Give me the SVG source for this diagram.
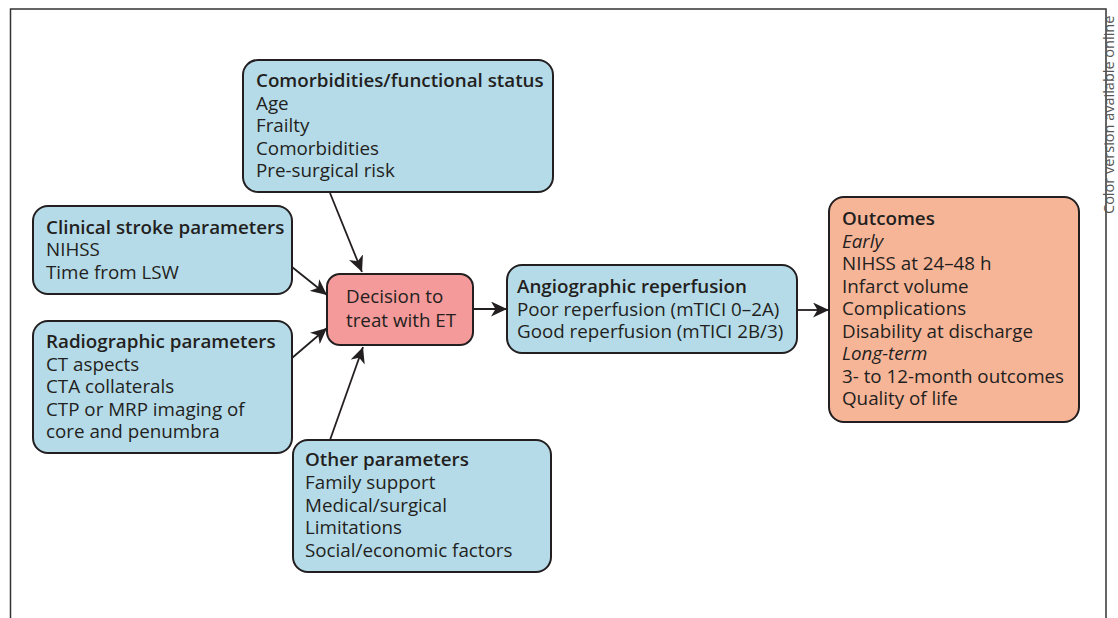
<svg xmlns="http://www.w3.org/2000/svg" width="1118" height="618" viewBox="0 0 1118 618">
<style>
.blue{fill:#b5dbe9;stroke:#231f20;stroke-width:2}
.red{fill:#f49a9a;stroke:#231f20;stroke-width:2}
.peach{fill:#f7b598;stroke:#231f20;stroke-width:2}
text{font-family:"Open Sans","Noto Sans",sans-serif;font-size:18.8px;fill:#231f20}
.t{font-weight:600}
.i{font-style:italic}
.conn line{stroke:#231f20;stroke-width:1.8}
.note{font-size:14.5px;fill:#555}
</style>
<defs>
<marker id="ah" markerUnits="userSpaceOnUse" markerWidth="17" markerHeight="15" refX="16" refY="7.5" orient="auto">
<path d="M0,0 L16,7.5 L0,15 L4.5,7.5 Z" fill="#231f20"/>
</marker>
</defs>
<rect width="1118" height="618" fill="#fff"/>
<path d="M10.5,618 V9 H1106 V618" fill="none" stroke="#333" stroke-width="1.5"/>
<text class="note" transform="translate(1114,214) rotate(-90)">Color version available online</text>

<g class="conn">
<line x1="330" y1="193" x2="362" y2="272" marker-end="url(#ah)"/>
<line x1="292" y1="267" x2="327" y2="295" marker-end="url(#ah)"/>
<line x1="292" y1="358" x2="327" y2="328" marker-end="url(#ah)"/>
<line x1="330" y1="440" x2="363" y2="347" marker-end="url(#ah)"/>
<line x1="473" y1="309" x2="507" y2="309" marker-end="url(#ah)"/>
<line x1="797" y1="310" x2="829" y2="310" marker-end="url(#ah)"/>
</g>

<g id="comorbidities">
<rect class="blue" x="243" y="60" width="310" height="132" rx="15"/>
<text x="256" y="87" class="t">Comorbidities/functional status</text>
<text x="256" y="109.5">Age</text>
<text x="256" y="132">Frailty</text>
<text x="256" y="154.5">Comorbidities</text>
<text x="256" y="177">Pre-surgical risk</text>
</g>

<g id="clinical">
<rect class="blue" x="33" y="206" width="259" height="88" rx="15"/>
<text x="46" y="233.5" class="t">Clinical stroke parameters</text>
<text x="46" y="256">NIHSS</text>
<text x="46" y="278.5">Time from LSW</text>
</g>

<g id="radiographic">
<rect class="blue" x="33" y="321" width="259" height="132" rx="15"/>
<text x="46" y="348" class="t">Radiographic parameters</text>
<text x="46" y="370.5">CT aspects</text>
<text x="46" y="393">CTA collaterals</text>
<text x="46" y="415.5">CTP or MRP imaging of</text>
<text x="46" y="438">core and penumbra</text>
</g>

<g id="decision">
<rect class="red" x="327" y="274" width="146" height="71" rx="13"/>
<text x="346" y="303">Decision to</text>
<text x="346" y="327">treat with ET</text>
</g>

<g id="other">
<rect class="blue" x="293" y="440" width="258" height="132" rx="15"/>
<text x="305" y="466" class="t">Other parameters</text>
<text x="305" y="489">Family support</text>
<text x="305" y="511.5">Medical/surgical</text>
<text x="305" y="534">Limitations</text>
<text x="305" y="556.5">Social/economic factors</text>
</g>

<g id="angiographic">
<rect class="blue" x="507" y="265" width="290" height="88" rx="15"/>
<text x="517" y="293" class="t">Angiographic reperfusion</text>
<text x="517" y="315.5">Poor reperfusion (mTICI 0–2A)</text>
<text x="517" y="338">Good reperfusion (mTICI 2B/3)</text>
</g>

<g id="outcomes">
<rect class="peach" x="829" y="197" width="250" height="225" rx="15"/>
<text x="842" y="225" class="t">Outcomes</text>
<text x="842" y="247.5" class="i">Early</text>
<text x="842" y="270">NIHSS at 24–48 h</text>
<text x="842" y="292.5">Infarct volume</text>
<text x="842" y="315">Complications</text>
<text x="842" y="337.5">Disability at discharge</text>
<text x="842" y="360" class="i">Long-term</text>
<text x="842" y="382.5">3- to 12-month outcomes</text>
<text x="842" y="405">Quality of life</text>
</g>
</svg>
